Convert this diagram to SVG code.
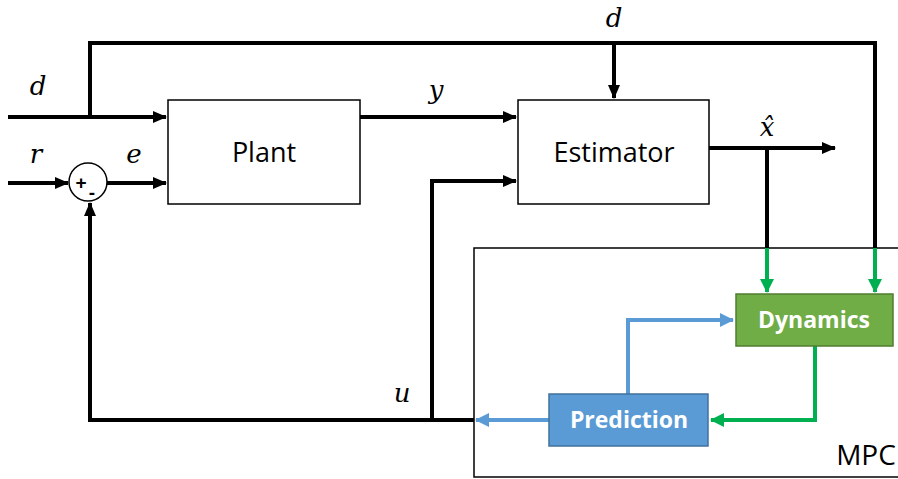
<svg xmlns="http://www.w3.org/2000/svg" width="898" height="479" viewBox="0 0 898 479">
  <style>
    .blk { fill: #ffffff; stroke: #000000; stroke-width: 1.5; }
    .wire { fill: none; stroke: #000000; stroke-width: 4; }
    .gwire { fill: none; stroke: #00B050; stroke-width: 4; }
    .bwire { fill: none; stroke: #5B9BD5; stroke-width: 4; }
    .lbl { font-family: "Open Sans", "Noto Sans", "Liberation Sans", sans-serif; font-size: 27px; fill: #000000; text-anchor: middle; }
    .wlbl { font-family: "Open Sans", "Noto Sans", "Liberation Sans", sans-serif; font-size: 23px; font-weight: bold; fill: #ffffff; text-anchor: middle; }
    .math { font-family: "DejaVu Serif", "Liberation Serif", serif; font-style: italic; font-size: 26px; fill: #000000; text-anchor: middle; }
  </style>
  <defs>
    <marker id="ah" markerUnits="userSpaceOnUse" markerWidth="14" markerHeight="12" refX="13" refY="6" orient="auto">
      <path d="M0,0 L14,6 L0,12 Z" fill="#000000"/>
    </marker>
    <marker id="ahg" markerUnits="userSpaceOnUse" markerWidth="14" markerHeight="14" refX="13" refY="7" orient="auto">
      <path d="M0,0 L14,7 L0,14 Z" fill="#00B050"/>
    </marker>
    <marker id="ahb" markerUnits="userSpaceOnUse" markerWidth="14" markerHeight="14" refX="13" refY="7" orient="auto">
      <path d="M0,0 L14,7 L0,14 Z" fill="#5B9BD5"/>
    </marker>
  </defs>

  <!-- MPC container -->
  <g id="mpc">
    <rect class="blk" x="474" y="248" width="430" height="229"/>
    <text x="866" y="465" font-family="Open Sans, Noto Sans, Liberation Sans, sans-serif" font-size="28" text-anchor="middle">MPC</text>
  </g>

  <g id="connectors">
    <!-- disturbance d -->
    <path class="wire" d="M8,117 L166,117" marker-end="url(#ah)"/>
    <path class="wire" d="M90,117 L90,43 L875,43 L875,248"/>
    <path class="wire" d="M614,43 L614,98" marker-end="url(#ah)"/>
    <path class="gwire" d="M875,248 L875,292" marker-end="url(#ahg)"/>
    <!-- reference r -->
    <path class="wire" d="M8,183 L68,183" marker-end="url(#ah)"/>
    <!-- error e -->
    <path class="wire" d="M107,183 L166,183" marker-end="url(#ah)"/>
    <!-- output y -->
    <path class="wire" d="M360,117 L516,117" marker-end="url(#ah)"/>
    <!-- state estimate x-hat -->
    <path class="wire" d="M709,148 L835,148" marker-end="url(#ah)"/>
    <path class="wire" d="M767,148 L767,248"/>
    <path class="gwire" d="M767,248 L767,292" marker-end="url(#ahg)"/>
    <!-- control u -->
    <path class="bwire" d="M549,420 L476,420" marker-end="url(#ahb)"/>
    <path class="wire" d="M474,420 L90,420 L90,203" marker-end="url(#ah)"/>
    <path class="wire" d="M432,420 L432,181 L516,181" marker-end="url(#ah)"/>
    <!-- internal MPC loop -->
    <path class="bwire" d="M628,394 L628,320 L733,320" marker-end="url(#ahb)"/>
    <path class="gwire" d="M815,346 L815,420 L711,420" marker-end="url(#ahg)"/>
  </g>

  <g id="sum">
    <circle cx="88" cy="182" r="19" fill="#ffffff" stroke="#000000" stroke-width="1.5"/>
    <text x="81" y="189" font-family="Liberation Sans, sans-serif" font-size="19" font-weight="bold" text-anchor="middle">+</text>
    <text x="92" y="199" font-family="Liberation Sans, sans-serif" font-size="19" font-weight="bold" text-anchor="middle">-</text>
  </g>

  <g id="plant">
    <rect class="blk" x="168" y="100" width="192" height="104"/>
    <text class="lbl" x="264" y="162">Plant</text>
  </g>

  <g id="estimator">
    <rect class="blk" x="518" y="100" width="191" height="104"/>
    <text class="lbl" x="614" y="162">Estimator</text>
  </g>

  <g id="dynamics">
    <rect x="736" y="294" width="157" height="52" fill="#70AD47" stroke="#507E32" stroke-width="1.5"/>
    <text class="wlbl" x="814" y="328">Dynamics</text>
  </g>

  <g id="prediction">
    <rect x="549" y="394" width="159" height="52" fill="#5B9BD5" stroke="#41719C" stroke-width="1.5"/>
    <text class="wlbl" x="629" y="428">Prediction</text>
  </g>

  <g id="labels">
    <text class="math" x="38" y="95">d</text>
    <text class="math" x="614" y="27">d</text>
    <text class="math" x="36" y="163">r</text>
    <text class="math" x="134" y="163">e</text>
    <text class="math" x="436" y="99">y</text>
    <text class="math" x="767" y="136">x̂</text>
    <text class="math" x="402" y="402">u</text>
  </g>
</svg>
